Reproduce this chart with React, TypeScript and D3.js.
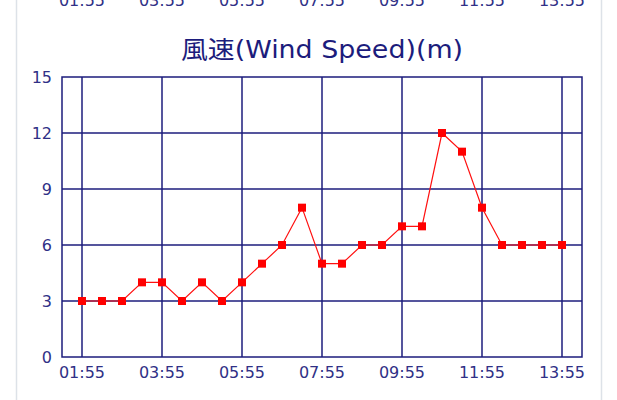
import * as d3 from "d3";

const times = [
  "01:55", "02:25", "02:55", "03:25", "03:55", "04:25", "04:55", "05:25", "05:55",
  "06:25", "06:55", "07:25", "07:55", "08:25", "08:55", "09:25", "09:55",
  "10:25", "10:55", "11:25", "11:55", "12:25", "12:55", "13:25", "13:55",
];
const windSpeed = [3, 3, 3, 4, 4, 3, 4, 3, 4, 5, 6, 8, 5, 5, 6, 6, 7, 7, 12, 11, 8, 6, 6, 6, 6];
const tickLabels = ["01:55", "03:55", "05:55", "07:55", "09:55", "11:55", "13:55"];
const yTicks = [0, 3, 6, 9, 12, 15];

const W = 617;
const H = 400;
const margin = { left: 62, right: 35, top: 77, bottom: 43 };
const navy = "#1c1c7c";
const textColor = "#303086";

const parse = d3.timeParse("%H:%M");

export default function App() {
  const t0 = parse("01:25")!;
  const t1 = parse("14:25")!;
  const x = d3.scaleTime().domain([t0, t1]).range([margin.left, W - margin.right]);
  const y = d3.scaleLinear().domain([0, 15]).range([H - margin.bottom, margin.top]);

  const pts = times.map((t, i) => ({ t: parse(t)!, v: windSpeed[i] }));
  const line = d3
    .line<{ t: Date; v: number }>()
    .x((d) => x(d.t))
    .y((d) => y(d.v));

  const fontTick = "'DejaVu Sans', sans-serif";
  const titleX = (margin.left + W - margin.right) / 2;

  return (
    <div style={{ position: "absolute", left: 0, top: 0 }}>
      <svg width={W} height={H} style={{ display: "block", background: "#fff" }}>
        <line x1={16.5} x2={16.5} y1={0} y2={H} stroke="#dde2e8" strokeWidth={1.5} />
        <line x1={601.5} x2={601.5} y1={0} y2={H} stroke="#dde2e8" strokeWidth={1.5} />
        {/* cut-off labels of the chart above */}
        {tickLabels.map((l) => (
          <text
            key={"top" + l}
            x={x(parse(l)!)}
            y={6}
            textAnchor="middle"
            fontFamily={fontTick}
            fontSize={16}
            fill={textColor}
          >
            {l}
          </text>
        ))}
        <text
          transform={`translate(${titleX},58) scale(1.12,1)`}
          textAnchor="middle"
          fontFamily="'DejaVu Sans', 'Noto Sans CJK JP', sans-serif"
          fontSize={24}
          fill={navy}
        >
          風速(Wind Speed)(m)
        </text>
        {yTicks.map((v) => (
          <g key={"y" + v}>
            {v > 0 && v < 15 && (
              <line
                x1={margin.left}
                x2={W - margin.right}
                y1={y(v)}
                y2={y(v)}
                stroke={navy}
                strokeWidth={1.5}
              />
            )}
            <text
              x={52}
              y={y(v)}
              dy="0.35em"
              textAnchor="end"
              fontFamily={fontTick}
              fontSize={16}
              fill={textColor}
            >
              {v}
            </text>
          </g>
        ))}
        {tickLabels.map((l) => (
          <g key={"x" + l}>
            <line
              x1={x(parse(l)!)}
              x2={x(parse(l)!)}
              y1={margin.top}
              y2={H - margin.bottom}
              stroke={navy}
              strokeWidth={1.5}
            />
            <text
              x={x(parse(l)!)}
              y={378}
              textAnchor="middle"
              fontFamily={fontTick}
              fontSize={16}
              fill={textColor}
            >
              {l}
            </text>
          </g>
        ))}
        <rect
          x={margin.left}
          y={margin.top}
          width={W - margin.left - margin.right}
          height={H - margin.top - margin.bottom}
          fill="none"
          stroke={navy}
          strokeWidth={1.5}
        />
        <path d={line(pts) ?? ""} fill="none" stroke="#ff1010" strokeWidth={1.2} />
        {pts.map((d, i) => (
          <rect key={i} x={x(d.t) - 4} y={y(d.v) - 4} width={8} height={8} fill="#ff0000" />
        ))}
      </svg>
    </div>
  );
}
